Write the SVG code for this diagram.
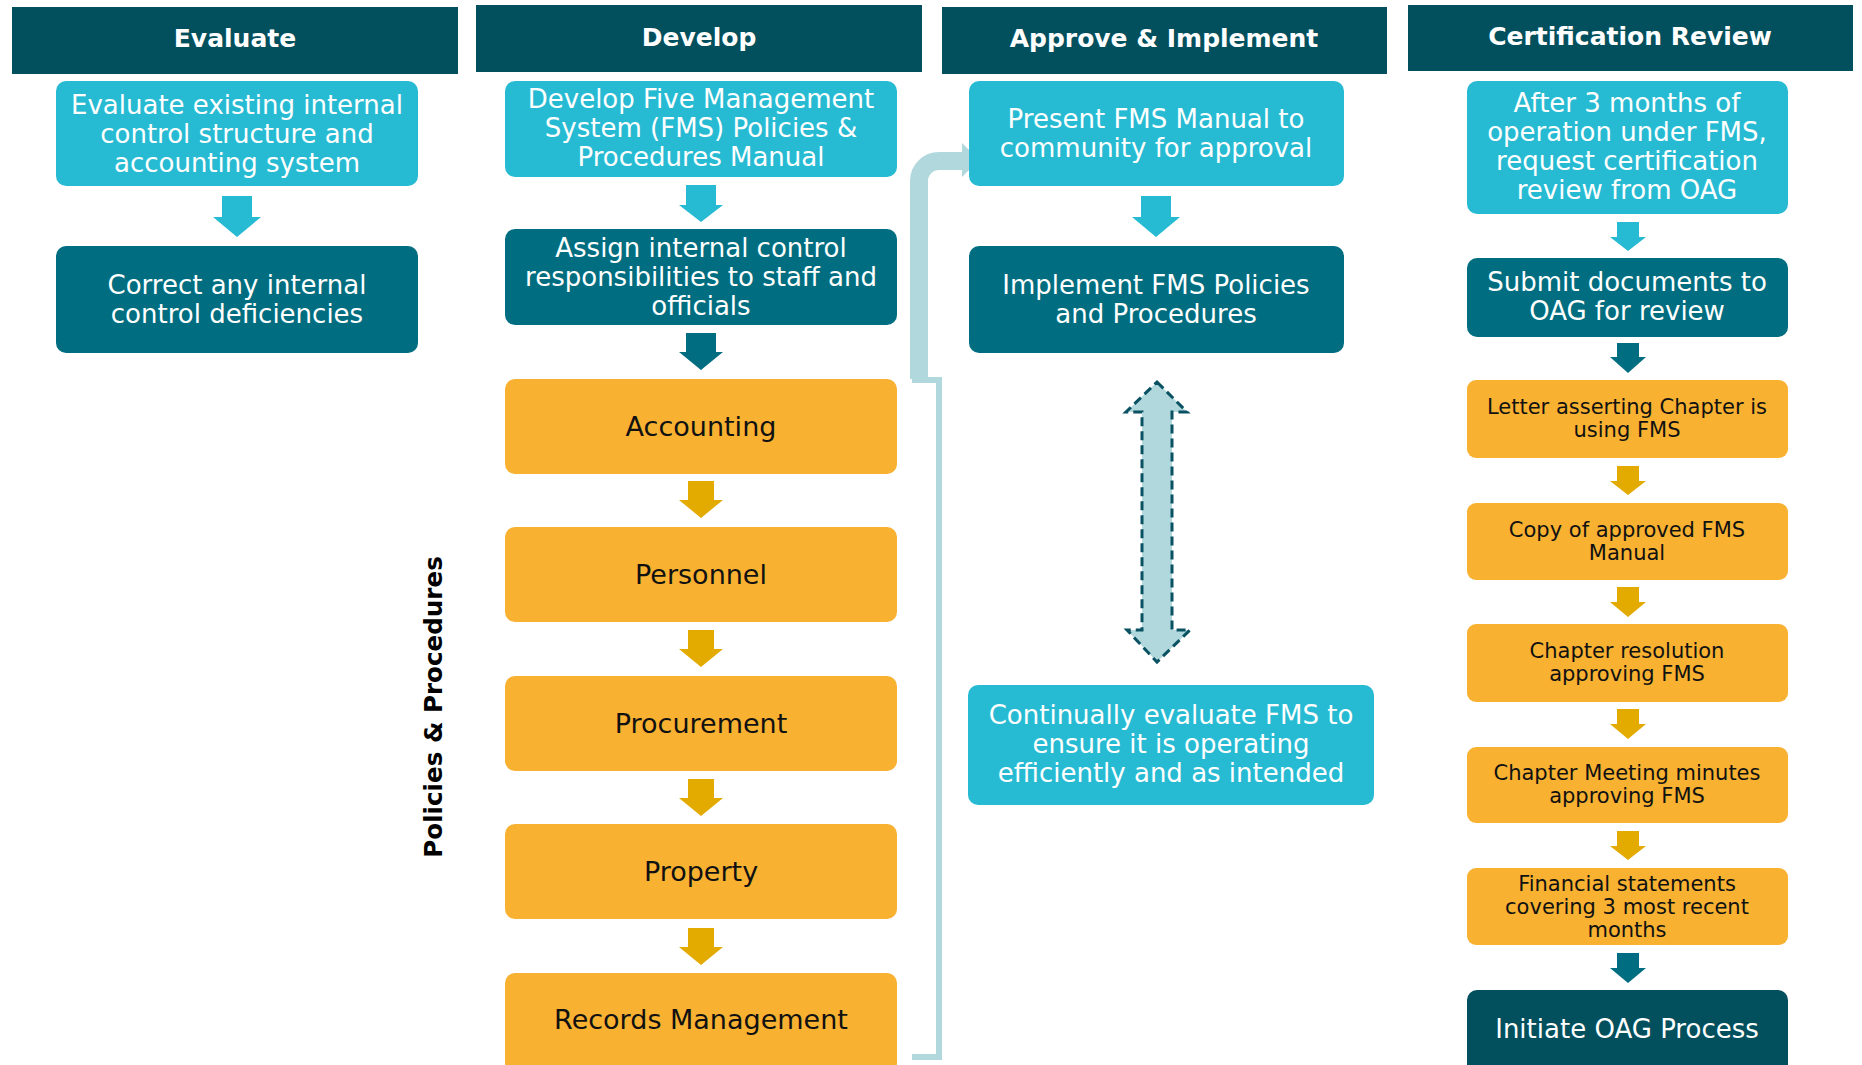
<svg xmlns="http://www.w3.org/2000/svg" width="1862" height="1065" viewBox="0 0 1862 1065">
<style>
text{font-family:"DejaVu Sans","Liberation Sans",sans-serif;text-anchor:middle}
.hdr{fill:#02505E}
.hdrt{fill:#fff;font-weight:bold;font-size:25px}
.cy{fill:#27BBD3}
.dk{fill:#006E80}
.or{fill:#F8B131}
.dd{fill:#02505E}
.w{fill:#fff;font-size:26px}
.b{fill:#111;font-size:27px}
.s{fill:#111;font-size:21px}
.aC{fill:#27BBD3}
.aD{fill:#006E80}
.aY{fill:#E3AA00}
</style>
<rect width="1862" height="1065" fill="#fff"/>

<g id="headers">
<g id="h-evaluate"><rect class="hdr" x="12" y="7" width="446" height="67"/><text class="hdrt" x="235" y="47">Evaluate</text></g>
<g id="h-develop"><rect class="hdr" x="476" y="5" width="446" height="67"/><text class="hdrt" x="699" y="46">Develop</text></g>
<g id="h-approve"><rect class="hdr" x="942" y="7" width="445" height="67"/><text class="hdrt" x="1164" y="47">Approve &amp; Implement</text></g>
<g id="h-cert"><rect class="hdr" x="1408" y="5" width="445" height="66"/><text class="hdrt" x="1630" y="45">Certification Review</text></g>
</g>

<g id="connectors">
<polygon class="aC" points="222,196 252,196 252,217 261,217 237,237 213,217 222,217"/>
<polygon class="aC" points="686,185 716,185 716,205 723,205 701,222 679,205 686,205"/>
<polygon class="aD" points="686,333 716,333 716,352 723,352 701,370 679,352 686,352"/>
<polygon class="aY" points="688,481 714,481 714,500 723,500 701,518 679,500 688,500"/>
<polygon class="aY" points="688,630 714,630 714,649 723,649 701,667 679,649 688,649"/>
<polygon class="aY" points="688,779 714,779 714,798 723,798 701,816 679,798 688,798"/>
<polygon class="aY" points="688,928 714,928 714,947 723,947 701,965 679,947 688,947"/>
<polygon class="aC" points="1141,196 1171,196 1171,217 1180,217 1156,237 1132,217 1141,217"/>
<polygon class="aC" points="1617,222 1639,222 1639,237 1646,237 1628,251 1610,237 1617,237"/>
<polygon class="aD" points="1617,343 1639,343 1639,357 1646,357 1628,373 1610,357 1617,357"/>
<polygon class="aY" points="1617,466 1639,466 1639,481 1646,481 1628,495 1610,481 1617,481"/>
<polygon class="aY" points="1617,587 1639,587 1639,602 1646,602 1628,617 1610,602 1617,602"/>
<polygon class="aY" points="1617,709 1639,709 1639,724 1646,724 1628,739 1610,724 1617,724"/>
<polygon class="aY" points="1617,831 1639,831 1639,846 1646,846 1628,860 1610,846 1617,846"/>
<polygon class="aD" points="1617,953 1639,953 1639,968 1646,968 1628,983 1610,968 1617,968"/>
<path d="M912,380 H939 V1057 H912" fill="none" stroke="#B1D8DD" stroke-width="6"/>
<path d="M919,379 V181 A20 20 0 0 1 939,161 H964" fill="none" stroke="#B1D8DD" stroke-width="18"/>
<polygon points="962,143 979,160 962,177" fill="#B1D8DD"/>
<polygon points="1157,382 1187,412 1172,412 1172,630 1190,630 1157,662 1127,630 1142,630 1142,412 1126,412" fill="#B1D8DD" stroke="#0A5263" stroke-width="3" stroke-dasharray="9,5" stroke-linejoin="miter"/>
</g>

<g id="evaluate-existing"><rect class="cy" x="56" y="81" width="362" height="105" rx="10"/>
<text class="w" x="237" y="114">Evaluate existing internal</text><text class="w" x="237" y="143">control structure and</text><text class="w" x="237" y="172">accounting system</text></g>
<g id="correct-deficiencies"><rect class="dk" x="56" y="246" width="362" height="107" rx="10"/>
<text class="w" x="237" y="294">Correct any internal</text><text class="w" x="237" y="323">control deficiencies</text></g>

<g id="develop-manual"><rect class="cy" x="505" y="81" width="392" height="96" rx="10"/>
<text class="w" x="701" y="108">Develop Five Management</text><text class="w" x="701" y="137">System (FMS) Policies &amp;</text><text class="w" x="701" y="166">Procedures Manual</text></g>
<g id="assign-responsibilities"><rect class="dk" x="505" y="229" width="392" height="96" rx="10"/>
<text class="w" x="701" y="257">Assign internal control</text><text class="w" x="701" y="286">responsibilities to staff and</text><text class="w" x="701" y="315">officials</text></g>
<g id="accounting"><rect class="or" x="505" y="379" width="392" height="95" rx="10"/><text class="b" x="701" y="436">Accounting</text></g>
<g id="personnel"><rect class="or" x="505" y="527" width="392" height="95" rx="10"/><text class="b" x="701" y="584">Personnel</text></g>
<g id="procurement"><rect class="or" x="505" y="676" width="392" height="95" rx="10"/><text class="b" x="701" y="733">Procurement</text></g>
<g id="property"><rect class="or" x="505" y="824" width="392" height="95" rx="10"/><text class="b" x="701" y="881">Property</text></g>
<g id="records-management"><rect class="or" x="505" y="973" width="392" height="100" rx="10"/><text class="b" x="701" y="1029">Records Management</text></g>
<g id="policies-label"><text transform="translate(442,707) rotate(-90)" style="font-weight:bold;font-size:24.6px;fill:#000">Policies &amp; Procedures</text></g>

<g id="present-manual"><rect class="cy" x="969" y="81" width="375" height="105" rx="10"/>
<text class="w" x="1156" y="128">Present FMS Manual to</text><text class="w" x="1156" y="157">community for approval</text></g>
<g id="implement-fms"><rect class="dk" x="969" y="246" width="375" height="107" rx="10"/>
<text class="w" x="1156" y="294">Implement FMS Policies</text><text class="w" x="1156" y="323">and Procedures</text></g>
<g id="continually-evaluate"><rect class="cy" x="968" y="685" width="406" height="120" rx="10"/>
<text class="w" x="1171" y="724">Continually evaluate FMS to</text><text class="w" x="1171" y="753">ensure it is operating</text><text class="w" x="1171" y="782">efficiently and as intended</text></g>

<g id="request-review"><rect class="cy" x="1467" y="81" width="321" height="133" rx="10"/>
<text class="w" x="1627" y="112">After 3 months of</text><text class="w" x="1627" y="141">operation under FMS,</text><text class="w" x="1627" y="170">request certification</text><text class="w" x="1627" y="199">review from OAG</text></g>
<g id="submit-documents"><rect class="dk" x="1467" y="258" width="321" height="79" rx="10"/>
<text class="w" x="1627" y="291">Submit documents to</text><text class="w" x="1627" y="320">OAG for review</text></g>
<g id="letter"><rect class="or" x="1467" y="380" width="321" height="78" rx="9"/>
<text class="s" x="1627" y="414">Letter asserting Chapter is</text><text class="s" x="1627" y="437">using FMS</text></g>
<g id="copy-manual"><rect class="or" x="1467" y="503" width="321" height="77" rx="9"/>
<text class="s" x="1627" y="537">Copy of approved FMS</text><text class="s" x="1627" y="560">Manual</text></g>
<g id="chapter-resolution"><rect class="or" x="1467" y="624" width="321" height="78" rx="9"/>
<text class="s" x="1627" y="658">Chapter resolution</text><text class="s" x="1627" y="681">approving FMS</text></g>
<g id="meeting-minutes"><rect class="or" x="1467" y="747" width="321" height="76" rx="9"/>
<text class="s" x="1627" y="780">Chapter Meeting minutes</text><text class="s" x="1627" y="803">approving FMS</text></g>
<g id="financial-statements"><rect class="or" x="1467" y="868" width="321" height="77" rx="9"/>
<text class="s" x="1627" y="891">Financial statements</text><text class="s" x="1627" y="914">covering 3 most recent</text><text class="s" x="1627" y="937">months</text></g>
<g id="initiate-oag"><rect class="dd" x="1467" y="990" width="321" height="85" rx="10"/>
<text class="w" x="1627" y="1038">Initiate OAG Process</text></g>
</svg>
